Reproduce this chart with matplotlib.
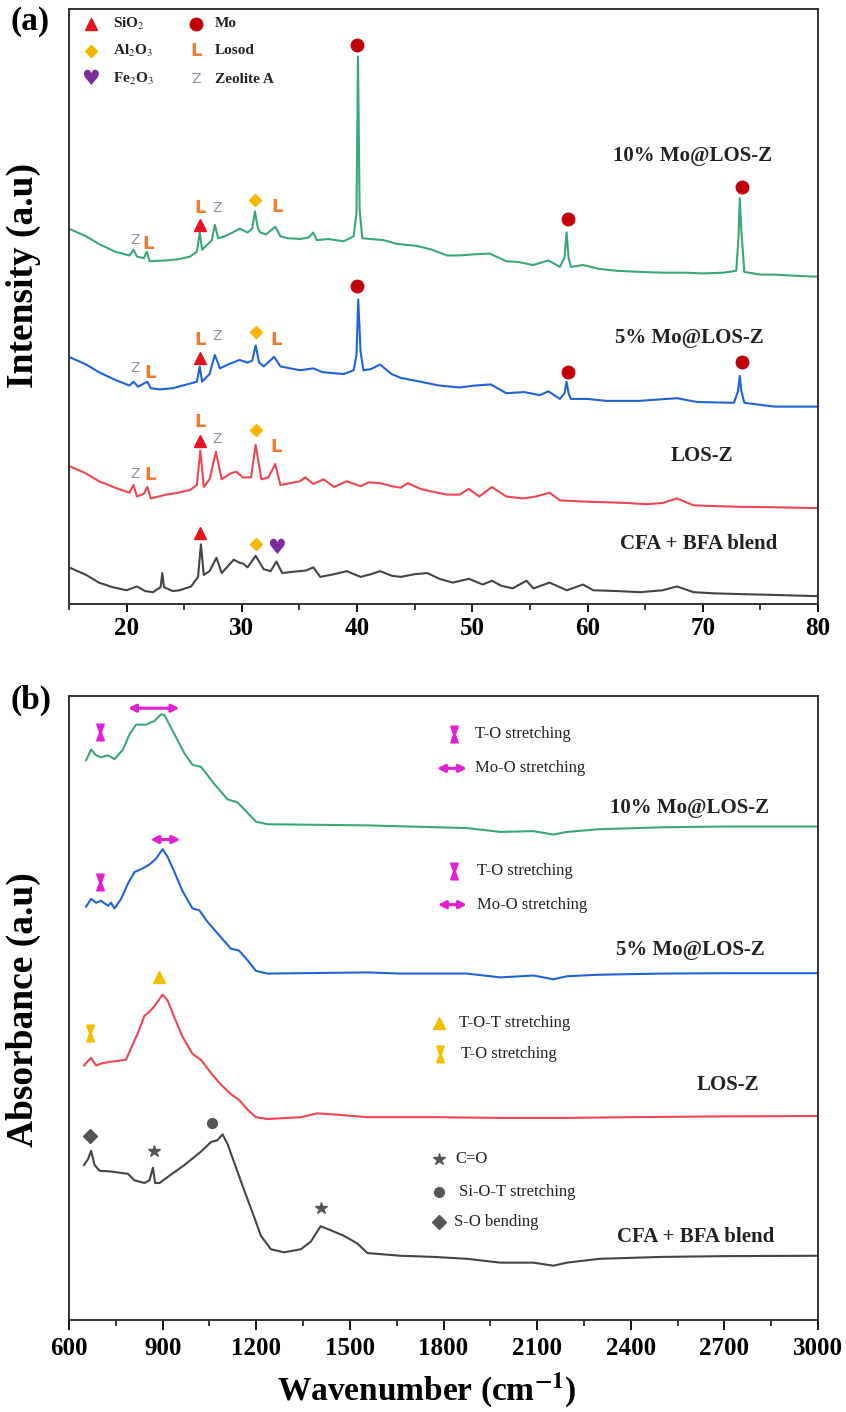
import matplotlib
matplotlib.use("Agg")
import matplotlib.pyplot as plt
from matplotlib.path import Path

plt.rcParams['font.family'] = ['Liberation Serif', 'DejaVu Serif']
plt.rcParams['mathtext.fontset'] = 'stix'

# ---------------- (a) XRD data, intensity in arbitrary units ----------------
g_x = [15.0, 16.5, 17.6, 19.0, 20.25, 20.6, 20.9, 21.5, 21.75, 22.0, 23.45, 24.5, 25.5, 26.1, 26.35, 26.55, 26.9, 27.4,
       27.66, 27.95, 28.5, 29.2, 29.8, 30.5, 30.9, 31.14, 31.4, 31.6, 32.1, 32.9, 33.35, 34.0, 35.06, 35.8, 36.2, 36.5,
       37.5, 38.84, 39.7, 39.95, 40.08, 40.22, 40.45, 41.2, 42.3, 43.5, 45.2, 46.5, 47.8, 48.9, 50.2, 51.5, 52.95, 54.0,
       55.27, 56.6, 57.6, 58.0, 58.18, 58.35, 58.55, 59.6, 61.0, 62.5, 64.56, 66.5, 68.5, 70.0, 71.8, 72.9, 73.1, 73.2,
       73.35, 73.45, 73.6, 75.0, 76.2, 78.0, 79.5, 80.0]
g_y = [1010, 990, 970, 950, 940, 955, 937, 933, 950, 925, 927, 930, 937, 950, 1000, 955, 965, 980, 1020, 985,
       990, 1000, 1010, 1000, 1010, 1055, 1010, 1000, 995, 1015, 990, 985, 983, 987, 1000, 980, 983, 977, 990, 1050,
       1460, 1060, 985, 983, 980, 970, 965, 955, 940, 940, 943, 945, 925, 923, 915, 927, 910, 935, 1000, 935,
       910, 915, 905, 900, 897, 895, 895, 893, 895, 900, 990, 1090, 1000, 960, 897, 890, 890, 887, 885, 885]

b_x = [15.0, 16.5, 17.6, 19.0, 20.25, 20.6, 21.0, 21.8, 22.1, 22.9, 24.0, 25.5, 26.1, 26.35, 26.55, 27.2, 27.66, 28.1,
       28.8, 29.8, 30.5, 30.9, 31.2, 31.5, 31.9, 32.8, 33.35, 34.2, 35.06, 36.2, 37.0, 38.84, 39.7, 39.95, 40.1, 40.3,
       40.55, 41.2, 42.0, 43.0, 43.8, 45.5, 47.14, 48.9, 50.2, 51.6, 52.95, 54.5, 55.85, 56.6, 57.6, 58.0, 58.18, 58.35,
       58.55, 60.0, 61.6, 64.5, 67.76, 69.5, 72.7, 73.05, 73.2, 73.35, 73.6, 76.2, 79.5, 80.0]
b_y = [675, 655, 635, 615, 600, 610, 597, 610, 593, 590, 593, 605, 610, 650, 610, 630, 680, 645, 655, 667,
       660, 665, 705, 660, 650, 675, 650, 645, 640, 645, 635, 630, 640, 680, 825, 690, 640, 643, 655, 630,
       620, 610, 600, 595, 600, 603, 580, 583, 575, 585, 565, 580, 610, 580, 565, 565, 560, 560, 567, 557,
       555, 585, 625, 585, 555, 545, 545, 545]

r_x = [15.0, 16.5, 17.6, 19.0, 20.25, 20.6, 20.9, 21.5, 21.8, 22.1, 23.45, 24.5, 25.5, 26.1, 26.4, 26.7, 27.2, 27.75,
       28.25, 29.0, 29.5, 30.1, 30.8, 31.2, 31.7, 32.3, 32.9, 33.35, 34.2, 35.06, 35.5, 36.2, 37.1, 38.0, 39.1, 40.3,
       41.0, 42.0, 43.0, 43.8, 44.4, 45.5, 46.5, 47.8, 48.9, 49.7, 50.6, 51.7, 52.95, 54.4, 55.5, 56.7, 57.6, 59.5,
       61.6, 63.5, 65.1, 66.5, 67.76, 69.2, 71.0, 73.25, 76.0, 79.5, 80.0]
r_y = [390, 370, 350, 333, 320, 340, 310, 317, 335, 305, 315, 320, 327, 340, 430, 335, 355, 427, 355, 370,
       375, 360, 360, 445, 355, 360, 395, 340, 345, 350, 360, 343, 355, 335, 350, 337, 347, 345, 337, 333,
       345, 330, 323, 315, 315, 330, 310, 335, 310, 305, 310, 320, 300, 297, 295, 293, 290, 293, 305, 287,
       285, 283, 282, 280, 280]

k_x = [15.0, 16.5, 17.6, 18.8, 20.0, 20.9, 21.6, 22.3, 22.95, 23.1, 23.25, 24.0, 24.6, 25.6, 26.2, 26.45, 26.7, 27.2,
       27.8, 28.25, 28.7, 29.3, 29.8, 30.1, 30.5, 31.2, 31.9, 32.5, 33.0, 33.5, 34.3, 35.06, 35.6, 36.2, 36.8, 38.0,
       39.1, 40.3, 41.2, 42.0, 43.0, 43.8, 45.0, 46.1, 47.14, 48.3, 49.7, 50.9, 51.7, 52.5, 53.5, 54.7, 55.3, 56.7,
       58.2, 59.6, 60.5, 62.5, 64.56, 66.5, 67.76, 69.2, 71.0, 73.25, 76.0, 79.5, 80.0]
k_y = [125, 105, 85, 73, 65, 75, 63, 60, 73, 110, 73, 63, 65, 75, 100, 185, 105, 115, 150, 110,
       125, 145, 137, 135, 125, 155, 120, 115, 140, 110, 113, 115, 117, 125, 100, 107, 115, 100, 107, 115,
       103, 100, 107, 110, 95, 85, 95, 80, 90, 77, 70, 90, 70, 85, 65, 80, 65, 63, 60, 65,
       75, 60, 57, 55, 53, 50, 50]

xrd_labels = ['10% Mo@LOS-Z', '5% Mo@LOS-Z', 'LOS-Z', 'CFA + BFA blend']
xrd_label_pos = [(69.1, 1200), (68.8, 725), (69.9, 415), (69.6, 185)]

# phase markers (x, y)
sio2_pts = [(26.35, 1020), (26.35, 673), (26.4, 455), (26.4, 215)]
al2o3_pts = [(31.14, 1085), (31.2, 740), (31.2, 483), (31.2, 185)]
fe2o3_pts = [(33.0, 175)]
mo_pts = [(40.0, 1490), (58.3, 1035), (73.36, 1120), (40.0, 860), (58.3, 635), (73.36, 662)]
losod_pts = [(21.85, 970), (26.35, 1065), (33.1, 1067), (22.0, 633), (26.35, 720), (33.0, 720),
             (22.0, 365), (26.4, 505), (33.0, 440)]
zeolite_pts = [(20.7, 980), (27.9, 1065), (20.7, 645), (27.9, 730), (20.7, 370), (27.9, 460)]

# ---------------- (b) FTIR data ----------------
fg_x = [655, 671, 687, 703, 725, 746, 773, 794, 815, 847, 874, 895, 906, 938, 970, 996, 1023, 1066, 1108, 1140,
        1172, 1199, 1236, 1556, 1875, 1982, 2088, 2152, 2195, 2300, 2500, 2700, 2900, 3000]
fg_y = [1462, 1490, 1475, 1470, 1475, 1465, 1490, 1530, 1555, 1555, 1565, 1582, 1580, 1530, 1480, 1450, 1445, 1400,
        1360, 1352, 1325, 1302, 1295, 1292, 1285, 1275, 1277, 1268, 1275, 1282, 1287, 1289, 1289, 1289]

fb_x = [655, 671, 687, 703, 725, 735, 746, 767, 789, 810, 837, 858, 879, 900, 916, 938, 964, 996, 1018, 1044,
        1076, 1119, 1145, 1172, 1199, 1236, 1556, 1662, 1875, 1982, 2088, 2152, 2195, 2300, 2500, 2700, 3000]
fb_y = [1080, 1100, 1090, 1095, 1082, 1090, 1075, 1100, 1140, 1170, 1180, 1190, 1205, 1230, 1210, 1170, 1120, 1075,
        1070, 1040, 1010, 970, 965, 940, 912, 905, 908, 905, 905, 895, 900, 890, 898, 902, 905, 906, 906]

fr_x = [648, 671, 687, 703, 735, 757, 783, 799, 821, 842, 858, 874, 900, 916, 938, 964, 996, 1023, 1055, 1087,
        1119, 1145, 1172, 1199, 1236, 1343, 1396, 1449, 1556, 1769, 1982, 2195, 2400, 2700, 3000]
fr_y = [665, 685, 665, 670, 675, 677, 680, 710, 750, 795, 805, 820, 850, 835, 790, 740, 695, 680, 645, 615,
        590, 575, 550, 530, 525, 530, 540, 537, 530, 530, 528, 528, 530, 532, 533]

fk_x = [648, 661, 671, 682, 698, 735, 789, 810, 842, 858, 869, 876, 890, 927, 970, 1023, 1055, 1076, 1092, 1108,
        1130, 1161, 1193, 1215, 1247, 1289, 1343, 1375, 1406, 1438, 1481, 1524, 1556, 1662, 1769, 1875, 1982, 2088,
        2152, 2195, 2300, 2500, 2700, 3000]
fk_y = [405, 420, 442, 405, 390, 388, 382, 365, 358, 365, 398, 358, 358, 380, 405, 440, 465, 470, 485, 460,
        410, 340, 270, 220, 185, 177, 185, 205, 245, 235, 220, 200, 175, 168, 165, 160, 150, 150, 142, 150,
        160, 165, 167, 168]

ftir_labels = ['10% Mo@LOS-Z', '5% Mo@LOS-Z', 'LOS-Z', 'CFA + BFA blend']
ftir_label_pos = [(2588, 1337), (2591, 967), (2712, 614), (2607, 217)]

c_green = '#3AA876'
c_blue = '#1F63D6'
c_red = '#EE4650'
c_black = '#444444'
c_mo = '#C0000A'
c_sio2 = '#E3141E'
c_al = '#F7B500'
c_fe = '#7A2E9E'
c_los = '#F07A30'
c_zeo = '#8A93A6'
c_mag = '#E41ED2'
c_yel = '#F6BE00'
c_gry = '#555555'

hourglass = Path([(-0.45, 1), (0.45, 1), (0.1, 0), (0.45, -1), (-0.45, -1), (-0.1, 0), (-0.45, 1)],
                 [Path.MOVETO] + [Path.LINETO] * 5 + [Path.CLOSEPOLY])

fig = plt.figure(figsize=(8.46, 14.12), dpi=100)
ax1 = fig.add_axes([0.0815, 0.5722, 0.8855, 0.4214])
ax2 = fig.add_axes([0.0815, 0.0651, 0.8855, 0.4420])

for ax in (ax1, ax2):
    for s in ax.spines.values():
        s.set_linewidth(1.4)
        s.set_color('#333333')
    ax.set_yticks([])
    ax.tick_params(axis='x', which='minor', direction='out', length=4, width=1.1)
ax1.tick_params(axis='x', which='major', direction='out', length=6, width=1.3, pad=3, labelsize=18)
ax2.tick_params(axis='x', which='major', direction='out', length=7, width=1.3, pad=5, labelsize=18)

lw = 1.5

# ---- panel (a)
ax1.plot(g_x, g_y, color=c_green, lw=lw)
ax1.plot(b_x, b_y, color=c_blue, lw=lw)
ax1.plot(r_x, r_y, color=c_red, lw=lw)
ax1.plot(k_x, k_y, color=c_black, lw=lw)
ax1.set_xlim(15, 80)
ax1.set_ylim(29, 1584)
ax1.set_xticks(range(20, 81, 10))
ax1.set_xticks(range(15, 81, 5), minor=True)
ax1.set_xticklabels([str(v) for v in range(20, 81, 10)], fontweight='bold')

for t, (x, y) in zip(xrd_labels, xrd_label_pos):
    ax1.text(x, y, t, ha='center', va='center', fontsize=15, fontweight='bold', color='#222222')

ax1.plot([p[0] for p in sio2_pts], [p[1] for p in sio2_pts], '^', color=c_sio2, ms=8, ls='none')
ax1.plot([p[0] for p in al2o3_pts], [p[1] for p in al2o3_pts], 'D', color=c_al, ms=6, ls='none')
ax1.plot([p[0] for p in mo_pts], [p[1] for p in mo_pts], 'o', color=c_mo, ms=9, ls='none')
for x, y in fe2o3_pts:
    ax1.text(x, y, '\u2665', color=c_fe, ha='center', va='center', fontsize=15, family='DejaVu Sans')
for x, y in losod_pts:
    ax1.text(x, y, 'L', color=c_los, ha='center', va='center', fontsize=13, fontweight='bold', family='DejaVu Sans')
for x, y in zeolite_pts:
    ax1.text(x, y, 'Z', color=c_zeo, ha='center', va='center', fontsize=10, family='DejaVu Sans')

# legend of panel (a)
ax1.plot([16.9], [1545], '^', color=c_sio2, ms=8)
ax1.plot([16.9], [1475], 'D', color=c_al, ms=6)
ax1.text(16.9, 1400, '\u2665', color=c_fe, ha='center', va='center', fontsize=15, family='DejaVu Sans')
ax1.plot([26.06], [1545], 'o', color=c_mo, ms=9)
ax1.text(26.06, 1475, 'L', color=c_los, ha='center', va='center', fontsize=13, fontweight='bold', family='DejaVu Sans')
ax1.text(26.06, 1400, 'Z', color=c_zeo, ha='center', va='center', fontsize=10, family='DejaVu Sans')
for x, y, t in [(18.8, 1545, 'SiO$_2$'), (18.8, 1475, 'Al$_2$O$_3$'),
                (18.8, 1400, 'Fe$_2$O$_3$'), (27.66, 1545, 'Mo'),
                (27.66, 1475, 'Losod'), (27.66, 1400, 'Zeolite A')]:
    ax1.text(x, y, t, ha='left', va='center', fontsize=11, fontweight='bold', color='#222222')

# ---- panel (b)
ax2.plot(fg_x, fg_y, color=c_green, lw=lw)
ax2.plot(fb_x, fb_y, color=c_blue, lw=lw)
ax2.plot(fr_x, fr_y, color=c_red, lw=lw)
ax2.plot(fk_x, fk_y, color=c_black, lw=lw)
ax2.set_xlim(600, 3000)
ax2.set_ylim(0, 1630)
ax2.set_xticks(range(600, 3001, 300))
ax2.set_xticks(range(600, 3001, 150), minor=True)
ax2.set_xticklabels([str(v) for v in range(600, 3001, 300)], fontweight='bold')

for t, (x, y) in zip(ftir_labels, ftir_label_pos):
    ax2.text(x, y, t, ha='center', va='center', fontsize=15, fontweight='bold', color='#222222')


def darrow(ax, x0, x1, y):
    ax.annotate('', xy=(x1, y), xytext=(x0, y),
                arrowprops=dict(arrowstyle='<|-|>', color=c_mag, lw=2.2, mutation_scale=11,
                                shrinkA=0, shrinkB=0))


# peak markers on curves
ax2.plot([700, 700], [1535, 1145], marker=hourglass, color=c_mag, ms=12, ls='none')
darrow(ax2, 789, 954, 1598)
darrow(ax2, 861, 957, 1255)
ax2.plot([890], [895], '^', color=c_yel, ms=8)
ax2.plot([669], [750], marker=hourglass, color=c_yel, ms=12, ls='none')
ax2.plot([669], [482], 'D', color=c_gry, ms=7)
ax2.plot([871, 1406], [442, 292], '*', color=c_gry, ms=9, ls='none')
ax2.plot([1058], [515], 'o', color=c_gry, ms=7)

# in-plot keys of panel (b)
ax2.plot([1833, 1835], [1530, 1173], marker=hourglass, color=c_mag, ms=12, ls='none')
darrow(ax2, 1779, 1875, 1441)
darrow(ax2, 1782, 1875, 1085)
ax2.plot([1785], [777], '^', color=c_yel, ms=8)
ax2.plot([1790], [695], marker=hourglass, color=c_yel, ms=12, ls='none')
ax2.plot([1785], [420], '*', color=c_gry, ms=9)
ax2.plot([1785], [335], 'o', color=c_gry, ms=7)
ax2.plot([1785], [255], 'D', color=c_gry, ms=7)
for x, y, t in [(1902, 1530, 'T-O stretching'), (1902, 1441, 'Mo-O stretching'),
                (1907, 1173, 'T-O stretching'), (1907, 1085, 'Mo-O stretching'),
                (1849, 777, 'T-O-T stretching'), (1855, 695, 'T-O stretching'),
                (1838, 420, 'C=O'), (1849, 335, 'Si-O-T stretching'), (1832, 255, 'S-O bending')]:
    ax2.text(x, y, t, ha='left', va='center', fontsize=12, color='#222222')

fig.text(0.505, 0.0155, 'Wavenumber (cm$^{\\mathbf{-1}}$)', ha='center', va='center', fontsize=24,
         fontweight='bold')

fig.text(0.028, 0.805, 'Intensity (a.u)', rotation=90, ha='center', va='center', fontsize=27, fontweight='bold')
fig.text(0.028, 0.285, 'Absorbance (a.u)', rotation=90, ha='center', va='center', fontsize=27, fontweight='bold')
fig.text(0.012, 0.985, '(a)', ha='left', va='center', fontsize=24, fontweight='bold')
fig.text(0.012, 0.504, '(b)', ha='left', va='center', fontsize=24, fontweight='bold')

fig.savefig('out.png', dpi=100)
